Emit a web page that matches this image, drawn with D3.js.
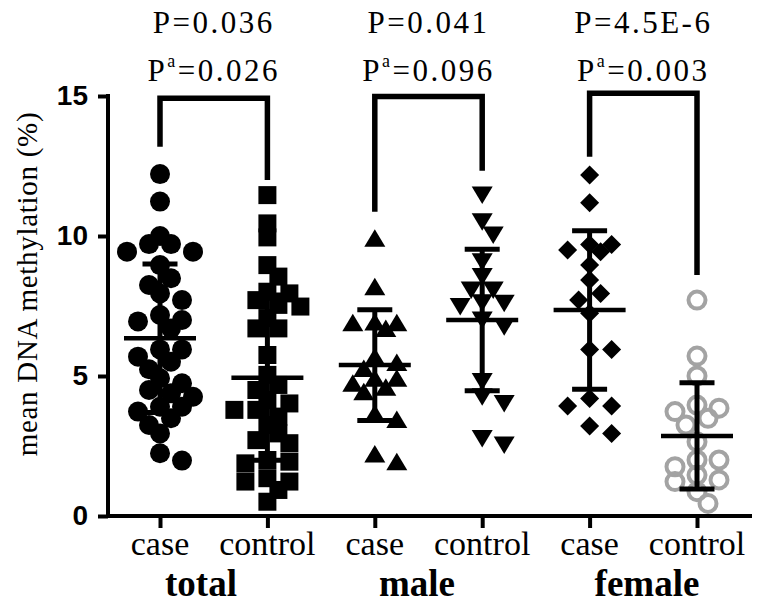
<!DOCTYPE html>
<html><head><meta charset="utf-8">
<script src="https://cdn.jsdelivr.net/npm/d3@7"></script>
<style>body{margin:0;background:#fff}svg{display:block}</style>
</head><body>
<svg id="c" width="761" height="605"></svg>
<script>
// ---------- data ----------
const categories = ["case", "control", "case", "control", "case", "control"];
const groups = ["total", "male", "female"];
const yTicks = [0, 5, 10, 15];

const totalCase = [12.21, 11.23, 10.0, 9.71, 9.71, 9.44, 9.44, 8.96, 8.49, 8.25, 7.95, 7.71, 7.18, 7.0, 6.95, 6.70,
  5.95, 5.95, 5.69, 5.51, 5.24, 4.92, 4.74, 4.50, 4.38, 4.26, 3.90, 3.90, 3.73, 3.49, 3.25, 2.95, 2.24, 1.98];
const totalControl = [11.46, 10.45, 9.95, 8.96, 8.55, 8.01, 7.95, 7.71, 7.54, 7.48, 7.07, 6.70, 6.70, 5.75, 5.04,
  4.68, 4.50, 4.14, 4.02, 3.79, 3.79, 3.55, 3.25, 2.95, 2.71, 2.60, 2.00, 1.94, 1.88, 1.35, 1.23, 1.23, 0.93, 0.51];
const maleCase = [9.92, 8.19, 6.93, 6.90, 6.90, 6.70, 5.69, 5.48, 5.27, 4.92, 4.92, 4.74, 4.60, 4.44, 3.66, 3.45, 2.21, 1.94];
const maleControl = [11.46, 10.51, 10.04, 9.08, 8.55, 8.07, 8.07, 7.62, 7.60, 7.48, 7.0, 6.76, 4.80, 4.26, 4.02, 2.77, 2.54];
const femaleCase = [12.18, 11.19, 9.70, 9.70, 9.50, 9.44, 8.96, 8.43, 7.95, 7.71, 7.24, 5.95, 5.95, 4.20, 3.93, 3.93, 3.21, 2.95];
const femaleControl = [7.71, 5.71, 5.0, 3.96, 3.85, 3.73, 3.49, 3.25, 2.65, 2.0, 2.0, 1.76, 1.46, 1.29, 1.23, 0.87, 0.45];

const means = [6.35, 4.94, 5.39, 7.0, 7.36, 2.86];
const sds = [2.65, 2.95, 1.98, 2.53, 2.83, 1.90];

const pLabels = ["P=0.036", "P=0.041", "P=4.5E-6"];
const paValues = ["=0.026", "=0.096", "=0.003"];
const bracketTop = [14.92, 14.98, 15.1];
const bracketCaseEnd = [13.19, 10.87, 12.83];
const bracketControlEnd = [12.0, 12.33, 8.61];

const seriesValues = [totalCase, totalControl, maleCase, maleControl, femaleCase, femaleControl];
const markerShapes = ["circle", "square", "triUp", "triDown", "diamond", "ring"];

// ---------- drawing ----------
const svg = d3.select("#c");
const x = d3.scalePoint().domain(d3.range(6)).range([160, 697]);
const y = d3.scaleLinear().domain([0, 15]).range([516, 96]);
const serif = "Liberation Serif, Times New Roman, serif";
const sans = "Liberation Sans, Arial, sans-serif";

// deterministic column-scatter layout (points spread sideways only when they collide)
function swarm(vals, cx, step, minDist, maxSteps) {
  const order = d3.range(vals.length).sort((a, b) => vals[b] - vals[a]);
  const placed = [];
  const out = new Array(vals.length);
  order.forEach(i => {
    const py = y(vals[i]);
    let best = null, bestD = -1;
    for (let t = 0; t <= 2 * maxSteps; t++) {
      const off = t === 0 ? 0 : (t % 2 ? 1 : -1) * Math.ceil(t / 2) * step;
      const px = cx + off;
      const d = placed.length ? d3.min(placed, p => Math.hypot(p[0] - px, p[1] - py)) : Infinity;
      if (d >= minDist) { best = px; bestD = d; break; }
      if (d > bestD) { bestD = d; best = px; }
    }
    placed.push([best, py]);
    out[i] = [best, py];
  });
  return out;
}

const shapePath = {
  square: "M-9,-9H9V9H-9Z",
  triUp: "M0,-9L10.5,8.5L-10.5,8.5Z",
  triDown: "M0,9L10.5,-8.5L-10.5,-8.5Z",
  diamond: "M0,-9.5L9.5,0L0,9.5L-9.5,0Z"
};

const pts = svg.append("g");
seriesValues.forEach((vals, gi) => {
  const pos = swarm(vals, x(gi), 11, 13.5, 3);
  const shp = markerShapes[gi];
  const g = pts.append("g");
  pos.forEach(p => {
    if (shp === "circle") {
      g.append("circle").attr("cx", p[0]).attr("cy", p[1]).attr("r", 10).attr("fill", "#000");
    } else if (shp === "ring") {
      g.append("circle").attr("cx", p[0]).attr("cy", p[1]).attr("r", 8.5)
        .attr("fill", "none").attr("stroke", "#a3a3a3").attr("stroke-width", 4);
    } else {
      g.append("path").attr("d", shapePath[shp]).attr("transform", `translate(${p[0]},${p[1]})`).attr("fill", "#000");
    }
  });
});

// error bars (mean ± SD)
const eb = svg.append("g").attr("stroke", "#000").attr("fill", "none");
means.forEach((m, i) => {
  const cx = x(i);
  eb.append("line").attr("x1", cx).attr("x2", cx).attr("y1", y(m + sds[i])).attr("y2", y(m - sds[i])).attr("stroke-width", 5);
  [m + sds[i], m - sds[i]].forEach(v =>
    eb.append("line").attr("x1", cx - 17.5).attr("x2", cx + 17.5).attr("y1", y(v)).attr("y2", y(v)).attr("stroke-width", 5));
  eb.append("line").attr("x1", cx - 36).attr("x2", cx + 36).attr("y1", y(m)).attr("y2", y(m)).attr("stroke-width", 4.5);
});

// brackets with P values
groups.forEach((gname, k) => {
  const x1 = x(2 * k), x2 = x(2 * k + 1);
  svg.append("path")
    .attr("d", `M${x1},${y(bracketCaseEnd[k])}V${y(bracketTop[k])}H${x2}V${y(bracketControlEnd[k])}`)
    .attr("fill", "none").attr("stroke", "#000").attr("stroke-width", 5.5).attr("stroke-linejoin", "miter");
  const cx = (x1 + x2) / 2;
  svg.append("text").attr("x", cx).attr("y", 33).attr("text-anchor", "middle")
    .attr("font-family", serif).attr("font-size", 31).attr("letter-spacing", 2.5).text(pLabels[k]);
  const t = svg.append("text").attr("x", cx).attr("y", 81).attr("text-anchor", "middle")
    .attr("font-family", serif).attr("font-size", 31).attr("letter-spacing", 2.5);
  t.append("tspan").text("P");
  t.append("tspan").attr("font-size", 18).attr("dy", -14).text("a");
  t.append("tspan").attr("dy", 14).text(paValues[k]);
});

// y axis
const yAxis = svg.append("g").attr("transform", "translate(108,0)")
  .call(d3.axisLeft(y).tickValues(yTicks).tickSize(10).tickSizeOuter(0).tickPadding(10));
yAxis.select(".domain").remove();
yAxis.selectAll(".tick line").attr("stroke-width", 4);
yAxis.selectAll(".tick text").attr("font-family", sans).attr("font-weight", "bold").attr("font-size", 28).attr("fill", "#000");
svg.append("line").attr("x1", 108).attr("x2", 108).attr("y1", 94).attr("y2", 518).attr("stroke", "#000").attr("stroke-width", 4);

// x axis
const xAxis = svg.append("g").attr("transform", "translate(0,516)")
  .call(d3.axisBottom(x).tickSize(12).tickFormat(() => ""));
xAxis.select(".domain").remove();
xAxis.selectAll(".tick line").attr("stroke-width", 4);
svg.append("line").attr("x1", 106).attr("x2", 752).attr("y1", 516).attr("y2", 516).attr("stroke", "#000").attr("stroke-width", 4);

// category and group labels
categories.forEach((c, i) => {
  svg.append("text").attr("x", x(i)).attr("y", 555).attr("text-anchor", "middle")
    .attr("font-family", serif).attr("font-size", 34).text(c);
});
const groupX = [201, 417, 647];
groups.forEach((g, k) => {
  svg.append("text").attr("x", groupX[k]).attr("y", 596).attr("text-anchor", "middle")
    .attr("font-family", serif).attr("font-weight", "bold").attr("font-size", 37).text(g);
});

// y title
svg.append("text").attr("transform", "translate(37,284) rotate(-90)").attr("text-anchor", "middle")
  .attr("font-family", serif).attr("font-size", 29).attr("letter-spacing", 0.7).text("mean DNA methylation (%)");
</script>
</body></html>
